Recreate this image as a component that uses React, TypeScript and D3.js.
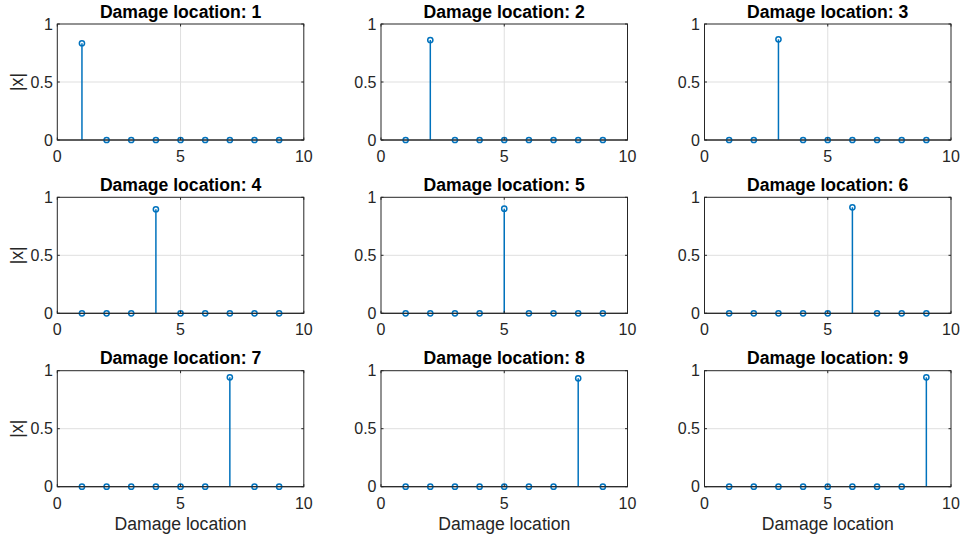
import React from "react";
import * as d3 from "d3";

const locations = [1, 2, 3, 4, 5, 6, 7, 8, 9];
const peakValues = [0.834, 0.862, 0.868, 0.897, 0.902, 0.914, 0.943, 0.934, 0.943];
const xTicks = [0, 5, 10];
const yTicks = [0, 0.5, 1];
const yTickLabels = ["0", "0.5", "1"];

const colLeft = [57.3, 381, 704.5];
const rowTop = [24, 197.3, 370.7];
const axW = 246.5;
const axH = 116;
const blue = "#0072BD";
const axisColor = "#262626";
const font = "'Liberation Sans', Arial, Helvetica, sans-serif";
const tickFont = 16;
const labelFont = 17.6;

function Panel({ idx }: { idx: number }) {
  const col = idx % 3;
  const row = Math.floor(idx / 3);
  const x0 = colLeft[col];
  const y0 = rowTop[row];
  const x = d3.scaleLinear().domain([0, 10]).range([0, axW]);
  const y = d3.scaleLinear().domain([0, 1]).range([axH, 0]);
  const loc = locations[idx];
  const values = locations.map((l) => (l === loc ? peakValues[idx] : 0));
  const tickLen = 2.5;
  return (
    <g transform={`translate(${x0},${y0})`}>
      <rect x={0} y={0} width={axW} height={axH} fill="white" />
      {xTicks.slice(1, -1).map((t) => (
        <line key={"gx" + t} x1={x(t)} x2={x(t)} y1={0} y2={axH} stroke="#dfdfdf" strokeWidth={1} />
      ))}
      {yTicks.slice(1, -1).map((t) => (
        <line key={"gy" + t} x1={0} x2={axW} y1={y(t)} y2={y(t)} stroke="#dfdfdf" strokeWidth={1} />
      ))}
      <line x1={0} x2={axW} y1={y(0)} y2={y(0)} stroke={axisColor} strokeWidth={1} />
      {locations.map((l, i) => (
        <g key={"s" + l}>
          {values[i] !== 0 && (
            <line x1={x(l)} x2={x(l)} y1={y(0)} y2={y(values[i])} stroke={blue} strokeWidth={1.5} />
          )}
          <circle cx={x(l)} cy={y(values[i])} r={2.6} fill="none" stroke={blue} strokeWidth={1.5} />
        </g>
      ))}
      <rect x={0} y={0} width={axW} height={axH} fill="none" stroke={axisColor} strokeWidth={1} />
      {xTicks.map((t) => (
        <g key={"tx" + t}>
          <line x1={x(t)} x2={x(t)} y1={axH} y2={axH - tickLen} stroke={axisColor} />
          <line x1={x(t)} x2={x(t)} y1={0} y2={tickLen} stroke={axisColor} />
          <text x={x(t)} y={axH + 22} textAnchor="middle" fontSize={tickFont} fill={axisColor} fontFamily={font}>
            {t}
          </text>
        </g>
      ))}
      {yTicks.map((t, i) => (
        <g key={"ty" + t}>
          <line x1={0} x2={tickLen} y1={y(t)} y2={y(t)} stroke={axisColor} />
          <line x1={axW} x2={axW - tickLen} y1={y(t)} y2={y(t)} stroke={axisColor} />
          <text x={-4.5} y={y(t) + 5.7} textAnchor="end" fontSize={tickFont} fill={axisColor} fontFamily={font}>
            {yTickLabels[i]}
          </text>
        </g>
      ))}
      <text x={axW / 2} y={-6.5} textAnchor="middle" fontSize={labelFont} fontWeight="bold" fill="#000" fontFamily={font}>
        {`Damage location: ${loc}`}
      </text>
      {col === 0 && (
        <text
          transform={`translate(-34,${axH / 2}) rotate(-90)`}
          textAnchor="middle"
          fontSize={labelFont}
          fill={axisColor}
          fontFamily={font}
        >
          |x|
        </text>
      )}
      {row === 2 && (
        <text x={axW / 2} y={axH + 43} textAnchor="middle" fontSize={labelFont} fill={axisColor} fontFamily={font}>
          Damage location
        </text>
      )}
    </g>
  );
}

export default function App() {
  return (
    <svg width={960} height={537} style={{ position: "absolute", left: 0, top: 0, background: "white" }}>
      <rect width={960} height={537} fill="white" />
      {locations.map((_, i) => (
        <Panel key={i} idx={i} />
      ))}
    </svg>
  );
}
